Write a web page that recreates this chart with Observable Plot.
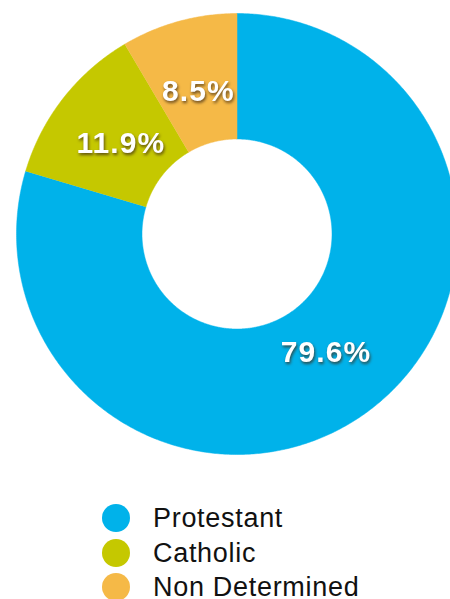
<!DOCTYPE html>
<html><head><meta charset="utf-8">
<script src="https://cdn.jsdelivr.net/npm/d3@7"></script>
<script src="https://cdn.jsdelivr.net/npm/@observablehq/plot@0.6"></script>
<style>
body{margin:0;background:#fff;font-family:"Liberation Sans",Arial,sans-serif;overflow:hidden}
.donut text{filter:drop-shadow(1.5px 2px 1.5px rgba(60,40,20,0.75));letter-spacing:1.1px}
#legend{margin-top:31px;padding-left:102px}
.row{display:flex;align-items:center;height:34.5px;font-size:27px;letter-spacing:0.7px;color:#111;line-height:34.5px}
.sw{width:28px;height:28px;border-radius:50%;margin-right:23px;flex:none}
</style></head><body>
<div id="chart"></div><div id="legend"></div>
<script>
const categories = ["Protestant", "Catholic", "Non Determined"];
const shares = [79.6, 11.9, 8.5];
const labels = ["79.6%", "11.9%", "8.5%"];
const colors = ["#00b2ea", "#c5c800", "#f5b947"];

const innerRatio = 95 / 220.5;
const labelRatio = 148 / 220.5;

const pie = d3.pie().sort(null).value(d => d.value)(categories.map((c, i) => ({cat: c, value: shares[i], label: labels[i]})));

const polys = [];
const labelPts = [];
for (const s of pie) {
  const a0 = s.startAngle, a1 = s.endAngle;
  const n = Math.max(8, Math.ceil((a1 - a0) / (Math.PI / 360)));
  for (let k = 0; k <= n; k++) { const a = a0 + (a1 - a0) * k / n; polys.push({cat: s.data.cat, x: Math.sin(a), y: -Math.cos(a)}); }
  for (let k = n; k >= 0; k--) { const a = a0 + (a1 - a0) * k / n; polys.push({cat: s.data.cat, x: innerRatio * Math.sin(a), y: -innerRatio * Math.cos(a)}); }
  const am = (a0 + a1) / 2;
  labelPts.push({cat: s.data.cat, label: s.data.label, x: labelRatio * Math.sin(am), y: -labelRatio * Math.cos(am)});
}

const chart = Plot.plot({
  width: 450, height: 470,
  margin: 0,
  className: "donut",
  x: {domain: [-1, 1], range: [16, 457], axis: null},
  y: {domain: [-1, 1], range: [13, 454], axis: null},
  color: {domain: categories, range: colors},
  marks: [
    Plot.line(polys, {x: "x", y: "y", z: "cat", fill: "cat", stroke: "cat", strokeWidth: 0.5}),
    Plot.text(labelPts, {x: "x", y: "y", text: "label", fill: "white", fontSize: 30, fontWeight: "bold", fontFamily: "Liberation Sans, Arial, sans-serif", textAnchor: "middle", dx: 0.5})
  ]
});
document.getElementById("chart").appendChild(chart);

const legend = document.getElementById("legend");
categories.forEach((c, i) => {
  const row = document.createElement("div"); row.className = "row";
  const sw = document.createElement("span"); sw.className = "sw"; sw.style.background = colors[i];
  const t = document.createElement("span"); t.textContent = c;
  row.appendChild(sw); row.appendChild(t); legend.appendChild(row);
});
</script>
</body></html>
